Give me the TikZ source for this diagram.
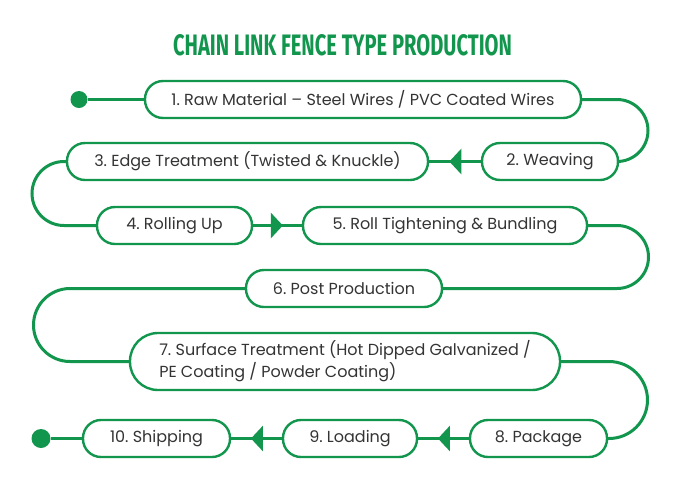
\documentclass[tikz,border=0pt]{standalone}
\usepackage{fontspec}
\setmainfont{Poppins}
\newfontfamily\titlefont{Fira Sans}[FakeStretch=0.78]
\usetikzlibrary{arrows.meta,decorations.markings}
\definecolor{fgreen}{RGB}{18,150,78}
\definecolor{ftext}{RGB}{52,52,52}
\tikzset{
  pill/.style={draw=fgreen, line width=2.4pt, fill=white, rounded corners=18pt,
    minimum height=37pt, inner sep=0pt, text=ftext, font=\fontsize{16}{19}\selectfont\frenchspacing},
  conn/.style={draw=fgreen, line width=3pt},
  midarrow/.style={postaction={decorate}, decoration={markings,
    mark=at position 0.61 with {\arrow{Triangle[length=12pt,width=25pt]}}}},
  enddot/.style={circle, fill=fgreen, minimum size=17pt, inner sep=0pt}
}
\begin{document}
\begin{tikzpicture}[x=1pt,y=-1pt]
\useasboundingbox (0,0) rectangle (685,483);
\node[text=fgreen] (title) at (342.5,45.5) {\resizebox{339pt}{21pt}{\titlefont\bfseries CHAIN LINK FENCE TYPE PRODUCTION}};
% nodes
\node[pill, minimum width=436pt] (n1) at (363,99.5) {1. Raw Material – Steel Wires / PVC Coated Wires};
\node[pill, minimum width=136pt] (n2) at (550,161.5) {2. Weaving};
\node[pill, minimum width=361pt] (n3) at (247.5,161.5) {3. Edge Treatment (Twisted \& Knuckle)};
\node[pill, minimum width=155pt] (n4) at (174.5,225.5) {4. Rolling Up};
\node[pill, minimum width=284pt] (n5) at (445,225.5) {5. Roll Tightening \& Bundling};
\node[pill, minimum width=196pt] (n6) at (344,288.5) {6. Post Production};
\node[pill, rounded corners=28pt, minimum height=57pt, minimum width=430pt, align=left,
  font=\fontsize{16}{22}\selectfont\frenchspacing] (n7) at (345,361.5) {7. Surface Treatment (Hot Dipped Galvanized /\\PE Coating / Powder Coating)};
\node[pill, minimum width=137pt] (n8) at (538.5,438.5) {8. Package};
\node[pill, minimum width=134pt] (n9) at (350,438.5) {9. Loading};
\node[pill, minimum width=147pt] (n10) at (156.5,438.5) {10. Shipping};
\node[enddot] (d1) at (79,99.5) {};
\node[enddot, minimum size=19pt] (d2) at (41,438.5) {};
% bend points
\coordinate (a1) at (617,99.5);
\coordinate (a3) at (64,161.5);
\coordinate (a5) at (617,225.5);
\coordinate (a6) at (70,288.5);
\coordinate (a7) at (609,361.5);
% connectors
\draw[conn] (d1) -- (n1.west);
\draw[conn] (n1.east) -- (a1) arc[start angle=90, end angle=-90, radius=31pt] -- (n2.east);
\draw[conn, midarrow] (n2.west) -- (n3.east);
\draw[conn] (n3.west) -- (a3) arc[start angle=90, end angle=270, radius=32pt] -- (n4.west);
\draw[conn, midarrow] (n4.east) -- (n5.west);
\draw[conn] (n5.east) -- (a5) arc[start angle=90, end angle=-90, radius=31.5pt] -- (n6.east);
\draw[conn] (n6.west) -- (a6) arc[start angle=90, end angle=270, radius=36.5pt] -- (n7.west);
\draw[conn] (n7.east) -- (a7) arc[start angle=90, end angle=-90, radius=38.5pt] -- (n8.east);
\draw[conn, midarrow] (n8.west) -- (n9.east);
\draw[conn, midarrow] (n9.west) -- (n10.east);
\draw[conn] (n10.west) -- (d2);
\end{tikzpicture}
\end{document}
